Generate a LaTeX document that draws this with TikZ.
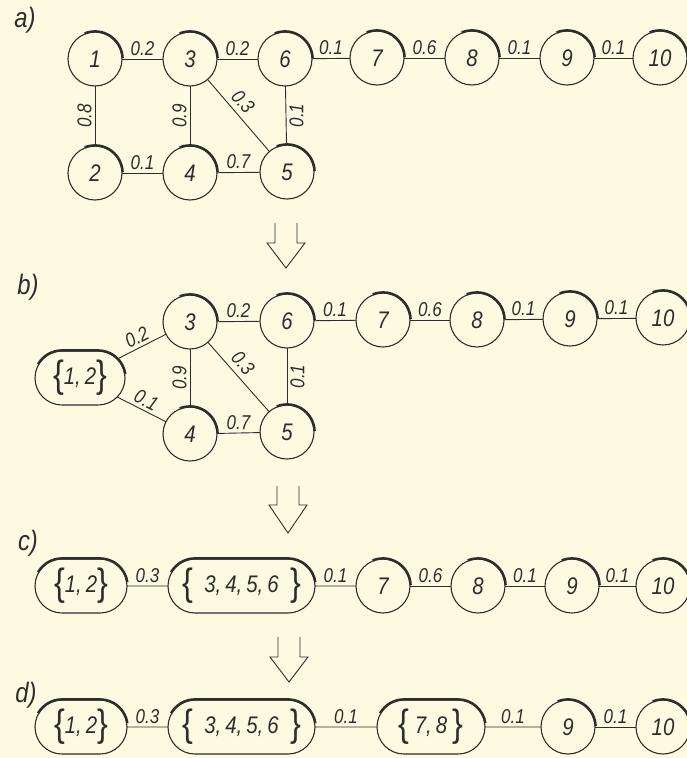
\documentclass[tikz,border=0pt]{standalone}
\usepackage{fontspec}
\setmainfont{Liberation Sans}[FakeStretch=0.85]
\usetikzlibrary{shapes.misc,calc}
\definecolor{paper}{RGB}{252,251,226}
\definecolor{ink}{RGB}{45,45,45}
\newcommand\lbr{{\fontsize{38}{38}\selectfont\upshape\raisebox{-3pt}{\{}}}
\newcommand\rbr{{\fontsize{38}{38}\selectfont\upshape\raisebox{-3pt}{\}}}}
\newcommand\vtxshade[1]{\draw[heavy] ($(#1.center)+(112:27.6pt)$) arc[start angle=112,end angle=2,radius=27.6pt];}
\newcommand\pillshade[1]{\draw[heavy] ($(#1.west)+(27pt,0pt)+(150:27.6pt)$) arc[start angle=150,end angle=90,radius=27.6pt] -- ($(#1.east)+(-27pt,27.6pt)$) arc[start angle=90,end angle=8,radius=27.6pt];}
\newcommand\hollowarrow[4]{\draw[hollow] (#1-11,#2) -- (#1-11,#3) -- (#1-19,#3) -- (#1,#4) -- (#1+19,#3) -- (#1+11,#3) -- (#1+11,#2);}
\begin{document}
\begin{tikzpicture}[x=1pt,y=-1pt,
  vtx/.style={circle,draw=ink,line width=1.1pt,minimum size=54pt,inner sep=0pt,outer sep=0pt,font=\fontsize{24}{24}\selectfont\itshape,text=ink},
  pill/.style={rounded rectangle,draw=ink,line width=1.1pt,minimum height=54pt,inner sep=0pt,outer sep=0pt,font=\fontsize{24}{24}\selectfont\itshape,text=ink},
  heavy/.style={draw=ink,line width=2.5pt,line cap=butt},
  wt/.style={font=\fontsize{20}{20}\selectfont\itshape,inner sep=3pt,text=ink},
  link/.style={draw=ink,line width=0.9pt},
  tag/.style={font=\fontsize{28}{28}\selectfont\itshape,text=ink},
  hollow/.style={draw=ink,line width=0.9pt,line join=miter}]
\fill[paper] (0,0) rectangle (687,758);
\useasboundingbox (0,0) rectangle (687,758);

% ---------- a)
\node[tag] (ta) at (25,20) {a)};
\node[vtx] (a1) at (95,59) {1};
\node[vtx] (a3) at (190,59) {3};
\node[vtx] (a6) at (285,59) {6};
\node[vtx] (a7) at (377,58) {7};
\node[vtx] (a8) at (472,58) {8};
\node[vtx] (a9) at (567,58) {9};
\node[vtx] (a10) at (660,58) {10};
\node[vtx] (a2) at (95,173) {2};
\node[vtx] (a4) at (190,173) {4};
\node[vtx] (a5) at (287,172) {5};
\foreach \n in {a1,a2,a3,a4,a5,a6,a7,a8,a9,a10} {\vtxshade{\n}}
\draw[link] (a1) -- node[wt,above]{0.2} (a3);
\draw[link] (a3) -- node[wt,above]{0.2} (a6);
\draw[link] (a6) -- node[wt,above]{0.1} (a7);
\draw[link] (a7) -- node[wt,above]{0.6} (a8);
\draw[link] (a8) -- node[wt,above]{0.1} (a9);
\draw[link] (a9) -- node[wt,above]{0.1} (a10);
\draw[link] (a1) -- node[wt,rotate=90,above]{0.8} (a2);
\draw[link] (a3) -- node[wt,rotate=90,above]{0.9} (a4);
\draw[link] (a3) -- node[wt,sloped,above=2pt,pos=0.42]{0.3} (a5);
\draw[link] (a6) -- node[wt,rotate=90,below]{0.1} (a5);
\draw[link] (a2) -- node[wt,above]{0.1} (a4);
\draw[link] (a4) -- node[wt,above]{0.7} (a5);

\hollowarrow{286}{223}{243}{268}

% ---------- b)
\node[tag] (tb) at (28,287) {b)};
\node[pill,minimum width=90pt] (b12) at (80,378) {\lbr 1,\,2\rbr};
\node[vtx] (b3) at (190,322) {3};
\node[vtx] (b6) at (287,321) {6};
\node[vtx] (b4) at (190,434) {4};
\node[vtx] (b5) at (287,432) {5};
\node[vtx] (b7) at (383,320) {7};
\node[vtx] (b8) at (477,320) {8};
\node[vtx] (b9) at (570,319) {9};
\node[vtx] (b10) at (663,318) {10};
\foreach \n in {b3,b4,b5,b6,b7,b8,b9,b10} {\vtxshade{\n}}
\pillshade{b12}
\draw[link] (b12) -- node[wt,sloped,above]{0.2} (b3);
\draw[link] (b12) -- node[wt,sloped,above]{0.1} (b4);
\draw[link] (b3) -- node[wt,above]{0.2} (b6);
\draw[link] (b6) -- node[wt,above]{0.1} (b7);
\draw[link] (b7) -- node[wt,above]{0.6} (b8);
\draw[link] (b8) -- node[wt,above]{0.1} (b9);
\draw[link] (b9) -- node[wt,above]{0.1} (b10);
\draw[link] (b3) -- node[wt,rotate=90,above]{0.9} (b4);
\draw[link] (b3) -- node[wt,sloped,above=2pt,pos=0.42]{0.3} (b5);
\draw[link] (b6) -- node[wt,rotate=90,below]{0.1} (b5);
\draw[link] (b4) -- node[wt,above]{0.7} (b5);

\hollowarrow{288}{486}{505}{533}

% ---------- c)
\node[tag] (tc) at (28,543) {c)};
\node[pill,minimum width=92pt] (c12) at (81,586) {\lbr 1,\,2\rbr};
\node[pill,minimum width=147pt] (c3456) at (241.5,586) {\lbr\ \ 3,\,4,\,5,\,6\ \ \rbr};
\node[vtx] (c7) at (383,586) {7};
\node[vtx] (c8) at (478,586) {8};
\node[vtx] (c9) at (572,586) {9};
\node[vtx] (c10) at (663,586) {10};
\foreach \n in {c7,c8,c9,c10} {\vtxshade{\n}}
\pillshade{c12}
\pillshade{c3456}
\draw[link] (c12) -- node[wt,above]{0.3} (c3456);
\draw[link] (c3456) -- node[wt,above]{0.1} (c7);
\draw[link] (c7) -- node[wt,above]{0.6} (c8);
\draw[link] (c8) -- node[wt,above]{0.1} (c9);
\draw[link] (c9) -- node[wt,above]{0.1} (c10);

\hollowarrow{289}{637}{657}{682}

% ---------- d)
\node[tag] (td) at (26,695) {d)};
\node[pill,minimum width=92pt] (d12) at (81,727) {\lbr 1,\,2\rbr};
\node[pill,minimum width=147pt] (d3456) at (241.5,727) {\lbr\ \ 3,\,4,\,5,\,6\ \ \rbr};
\node[pill,minimum width=108pt] (d78) at (431,727) {\lbr\ 7,\,8\ \rbr};
\node[vtx] (d9) at (568,727) {9};
\node[vtx] (d10) at (663,727) {10};
\foreach \n in {d9,d10} {\vtxshade{\n}}
\pillshade{d12}
\pillshade{d3456}
\pillshade{d78}
\draw[link] (d12) -- node[wt,above]{0.3} (d3456);
\draw[link] (d3456) -- node[wt,above]{0.1} (d78);
\draw[link] (d78) -- node[wt,above]{0.1} (d9);
\draw[link] (d9) -- node[wt,above]{0.1} (d10);
\end{tikzpicture}
\end{document}
